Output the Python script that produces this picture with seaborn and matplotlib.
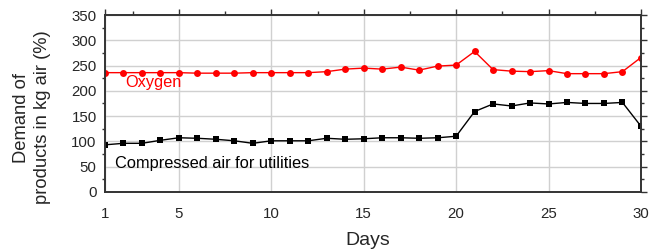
import numpy as np
import pandas as pd
import seaborn as sns
import matplotlib.pyplot as plt
from matplotlib.ticker import MultipleLocator

days = list(range(1, 31))
oxygen = [236, 236, 236, 236, 236, 235, 235, 235, 236, 236, 236, 236, 238, 243, 245,
          243, 247, 241, 249, 251, 278, 242, 239, 238, 240, 234, 234, 234, 238, 266]
compressed_air = [93, 96, 96, 102, 107, 106, 104, 101, 96, 101, 101, 101, 106, 104, 105,
                  107, 107, 106, 107, 110, 159, 174, 170, 176, 174, 177, 175, 175, 177, 130]

df = pd.DataFrame({'Day': days, 'Oxygen': oxygen, 'Compressed': compressed_air})

sns.set_style('white')
plt.rcParams['font.family'] = ['Liberation Sans', 'DejaVu Sans']

fig = plt.figure(figsize=(6.52, 2.52), dpi=100)
ax = fig.add_axes([0.161, 0.239, 0.822, 0.701])

sns.lineplot(data=df, x='Day', y='Oxygen', color='#ff0000', marker='o', markersize=5,
             markeredgewidth=0, linewidth=1, ax=ax)
sns.lineplot(data=df, x='Day', y='Compressed', color='black', marker='s', markersize=5,
             markeredgewidth=0, linewidth=1, ax=ax)

ax.set_xlim(1, 30)
ax.set_ylim(0, 350)
ax.set_xticks([1, 5, 10, 15, 20, 25, 30])
ax.xaxis.set_minor_locator(MultipleLocator(2.5))
ax.yaxis.set_major_locator(MultipleLocator(50))
ax.yaxis.set_minor_locator(MultipleLocator(25))
ax.grid(True, which='major', color='#d0d0d0', linewidth=1)
ax.set_axisbelow(True)

for s in ax.spines.values():
    s.set_color('#333333')
    s.set_linewidth(1.4)

ax.tick_params(axis='both', which='major', direction='out', length=4, width=1,
               color='#333333', labelsize=10.8)
ax.tick_params(axis='x', which='major', pad=7, top=True)
ax.tick_params(axis='y', which='major', pad=2, right=True)
ax.tick_params(axis='y', which='minor', direction='out', length=2.5, width=1,
               color='#333333', right=True, left=True)
ax.tick_params(axis='x', which='minor', direction='out', length=3, width=1,
               color='#333333', top=True, bottom=False)

ax.text(2.1, 217, 'Oxygen', color='#ff0000', fontsize=11.8, va='center')
ax.text(1.55, 57, 'Compressed air for utilities', color='black', fontsize=11.8, va='center')

ax.set_xlabel('Days', fontsize=14)
ax.set_ylabel('Demand of\nproducts in kg air (%)', fontsize=13.2, linespacing=1.35)
ax.yaxis.set_label_coords(-0.1, 0.42)
ax.xaxis.set_label_coords(0.49, -0.225)

fig.savefig('out.png', dpi=100)
